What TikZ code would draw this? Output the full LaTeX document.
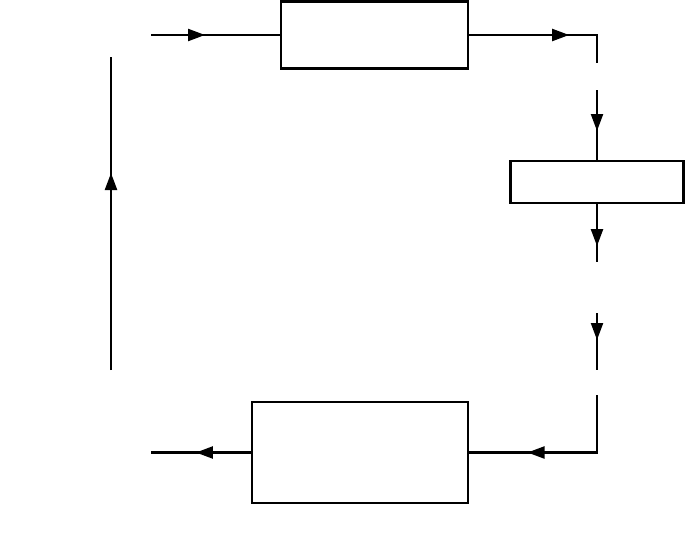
\documentclass[tikz,border=0pt]{standalone}
\usetikzlibrary{arrows.meta,decorations.markings}
\begin{document}
\begin{tikzpicture}[x=1pt,y=-1pt,
  every path/.style={line width=2.2pt},
  blockbox/.style={draw,line width=2.2pt,inner sep=0pt,fill=white},
  tipmark/.style={postaction={decorate},decoration={markings,
     mark=at position #1 with {\arrow{Triangle[length=17pt,width=12pt]}}}}]
\useasboundingbox (0,0) rectangle (692,535);
% boxes
\node[blockbox,minimum width=187pt,minimum height=67pt] (top) at (374.5,35) {};
\node[blockbox,minimum width=173pt,minimum height=42pt] (mid) at (597,182) {};
\node[blockbox,minimum width=216pt,minimum height=101pt] (bot) at (360,452.5) {};
% free ends
\coordinate (inA) at (151,35);
\coordinate (cornerA) at (597,35);
\coordinate (endA) at (597,63);
\coordinate (startB) at (597,90);
\coordinate (endC) at (597,262);
\coordinate (startD) at (597,313);
\coordinate (endD) at (597,370);
\coordinate (startE) at (597,395);
\coordinate (cornerE) at (597,452.5);
\coordinate (outF) at (151,452.5);
\coordinate (startG) at (111,370);
\coordinate (endG) at (111,57);
% connectors
\draw[tipmark=54pt] (inA) -- (top.west);
\draw[tipmark=100pt] (top.east) -- (cornerA) -- (endA);
\draw[tipmark=41pt] (startB) -- (mid.north);
\draw[tipmark=42pt] (mid.south) -- (endC);
\draw[tipmark=27pt] (startD) -- (endD);
\draw[tipmark=127pt] (startE) -- (cornerE) -- (bot.east);
\draw[tipmark=55pt] (bot.west) -- (outF);
\draw[tipmark=197pt] (startG) -- (endG);
\end{tikzpicture}
\end{document}
